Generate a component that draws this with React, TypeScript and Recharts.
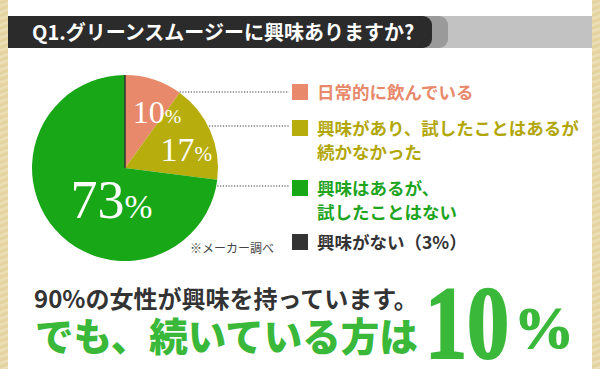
import React from 'react';
import { PieChart, Pie, Cell } from 'recharts';

// 回答データ
const categories = ['日常的に飲んでいる', '興味があり、試したことはあるが', '興味はあるが、', '興味がない'];
const secondLines = ['', '続かなかった', '試したことはない', ''];
const shares = [10, 17, 73, 3];
const colors = ['#e8896b', '#b7ad0c', '#17a717', '#333333'];
const textColors = ['#e8896b', '#b2a708', '#1fa51f', '#333333'];

// 円グラフには上位3項目のみ
const pieData = categories.slice(0, 3).map((name, i) => ({ name, value: shares[i] }));

const PIE_CX = 125;
const PIE_CY = 168;
const PIE_R = 93;

// ラベル配置 (半径, 角度補正, 文字サイズ)
const labelStyle = [
  { r: 64, shift: -12, size: 32 },
  { r: 64, shift: -7, size: 34 },
  { r: 35, shift: 26, size: 54 },
];

const RAD = Math.PI / 180;

function renderLabel(props: any) {
  const { cx, cy, midAngle, index, value } = props;
  const s = labelStyle[index];
  const a = (midAngle + s.shift) * RAD;
  const x = cx + s.r * Math.cos(a);
  const y = cy - s.r * Math.sin(a);
  return (
    <text
      x={x}
      y={y + s.size * 0.33}
      textAnchor="middle"
      fill="#ffffff"
      fontFamily="'Liberation Serif', 'DejaVu Serif', serif"
      fontSize={s.size}
    >
      {value}
      <tspan fontSize={s.size * 0.62}>%</tspan>
    </text>
  );
}

// 凡例の行位置
const rowY = [92, 128, 188, 242];
const lineY = [92, 126, 186];

const jp = "'Noto Sans CJK JP', 'Noto Sans', sans-serif";
const serif = "'Liberation Serif', 'DejaVu Serif', serif";

export default function App() {
  return (
    <div style={{ position: 'absolute', left: 0, top: 0, width: 600, height: 369, background: '#ffffff', overflow: 'hidden' }}>
      {/* 両端の背景 */}
      <div style={{ position: 'absolute', left: 0, top: 0, width: 8, height: 369, background: 'repeating-linear-gradient(160deg, #eadcb0 0px, #e2d19c 3px, #efe4c0 6px)' }} />
      <div style={{ position: 'absolute', left: 592, top: 0, width: 8, height: 369, background: 'repeating-linear-gradient(160deg, #eadcb0 0px, #e2d19c 3px, #efe4c0 6px)' }} />

      {/* 見出し */}
      <div style={{ position: 'absolute', left: 8, top: 16, width: 584, height: 32, background: '#c2c2c2' }} />
      <div style={{ position: 'absolute', left: 8, top: 16, width: 440, height: 32, background: '#9a9a9a', borderRadius: '0 9px 9px 0' }} />
      <div style={{ position: 'absolute', left: 8, top: 16, width: 424, height: 32, background: '#2b2b2b', borderRadius: '0 9px 9px 0' }} />
      <div style={{ position: 'absolute', left: 32, top: 16, height: 32, lineHeight: '32px', color: '#ffffff', fontFamily: jp, fontWeight: 700, fontSize: 20, whiteSpace: 'nowrap' }}>
        Q1.グリーンスムージーに興味ありますか?
      </div>

      <PieChart width={600} height={369} margin={{ top: 0, right: 0, bottom: 0, left: 0 }} style={{ position: 'absolute', left: 0, top: 0 }}>
        <Pie
          data={pieData}
          dataKey="value"
          cx={PIE_CX}
          cy={PIE_CY}
          outerRadius={PIE_R}
          startAngle={90}
          endAngle={-270}
          stroke="none"
          label={renderLabel}
          labelLine={false}
          isAnimationActive={false}
        >
          {pieData.map((d, i) => (
            <Cell key={d.name} fill={colors[i]} />
          ))}
        </Pie>
      </PieChart>

      {/* 引き出し線と最後の文字 */}
      <svg width={600} height={369} style={{ position: 'absolute', left: 0, top: 0 }}>
        <line x1={PIE_CX} y1={PIE_CY - PIE_R} x2={PIE_CX} y2={PIE_CY} stroke="#333" strokeWidth={1.5} />
        {lineY.map((y, i) => {
          const x0 = PIE_CX + Math.sqrt(PIE_R * PIE_R - (y - PIE_CY) * (y - PIE_CY));
          return <line key={i} x1={x0 + 1} y1={y} x2={289} y2={y} stroke="#333" strokeWidth={1.2} strokeDasharray="1.2 1.6" />;
        })}
        <text
          transform="translate(425,358) scale(0.81,1)"
          fill="#3ab83a"
          stroke="#3ab83a"
          strokeWidth={2.2}
          fontFamily={serif}
          fontWeight={700}
          fontSize={104}
        >
          {shares[0]}
        </text>
        <text x={514} y={348} fill="#3ab83a" stroke="#3ab83a" strokeWidth={1.2} fontFamily={serif} fontWeight={700} fontSize={60}>
          %
        </text>
      </svg>

      {/* 凡例 */}
      {categories.map((c, i) => (
        <React.Fragment key={c}>
          <div style={{ position: 'absolute', left: 292, top: rowY[i] - 8, width: 16, height: 16, background: colors[i] }} />
          <div style={{ position: 'absolute', left: 317, top: rowY[i] - 12, lineHeight: '24px', color: textColors[i], fontFamily: jp, fontWeight: 700, fontSize: 17.5, whiteSpace: 'nowrap' }}>
            {c}{i === 3 ? `（${shares[3]}%）` : ''}
            {secondLines[i] && <br />}
            {secondLines[i]}
          </div>
        </React.Fragment>
      ))}

      <div style={{ position: 'absolute', left: 190, top: 240, lineHeight: '16px', fontSize: 12, color: '#444', fontFamily: jp, whiteSpace: 'nowrap' }}>
        ※メーカー調べ
      </div>

      {/* まとめ */}
      <div style={{ position: 'absolute', left: 34, top: 284, lineHeight: '28px', fontSize: 24, color: '#333', fontFamily: jp, fontWeight: 700, whiteSpace: 'nowrap' }}>
        90%の女性が興味を持っています。
      </div>
      <div style={{ position: 'absolute', left: 35, top: 313, lineHeight: '42px', fontSize: 38.5, color: '#3ab83a', fontFamily: jp, fontWeight: 900, whiteSpace: 'nowrap' }}>
        でも、続いている方は
      </div>
    </div>
  );
}
